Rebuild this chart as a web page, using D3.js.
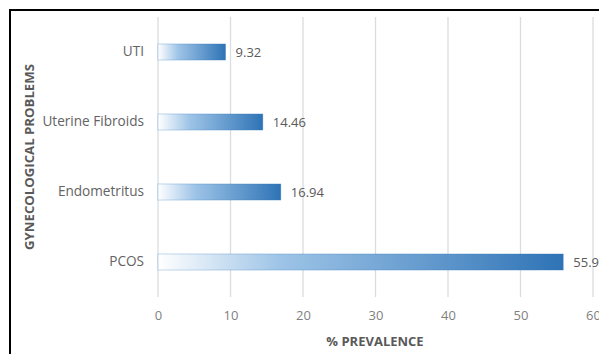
<!DOCTYPE html>
<html><head><meta charset="utf-8">
<script src="https://cdn.jsdelivr.net/npm/d3@7"></script>
<style>body{margin:0;background:#fff}svg{display:block}text{font-family:"Open Sans",sans-serif}</style>
</head><body><svg id="c" width="599" height="354"></svg>
<script>
const categories = ["UTI", "Uterine Fibroids", "Endometritus", "PCOS"];
const values = [9.32, 14.46, 16.94, 55.9];
const valueLabels = ["9.32", "14.46", "16.94", "55.9"];
const xTicks = [0, 10, 20, 30, 40, 50, 60];
const xTitle = "% PREVALENCE";
const yTitle = "GYNECOLOGICAL PROBLEMS";

const svg = d3.select("#c");
// frame
svg.append("rect").attr("x", 10).attr("y", 10).attr("width", 620).attr("height", 400)
  .attr("fill", "none").attr("stroke", "#000").attr("stroke-width", 2);

const x = d3.scaleLinear().domain([0, 60]).range([158, 593]);
const y = d3.scaleBand().domain(categories).range([17, 297]).paddingInner(0.77).paddingOuter(0.385);

const defs = svg.append("defs");
const g = defs.append("linearGradient").attr("id", "gr").attr("x1", 0).attr("x2", 1).attr("y1", 0).attr("y2", 0);
g.append("stop").attr("offset", "0%").attr("stop-color", "#ffffff");
g.append("stop").attr("offset", "30%").attr("stop-color", "#9ec4e7");
g.append("stop").attr("offset", "100%").attr("stop-color", "#2e73b6");

// gridlines
svg.append("g").selectAll("line").data(xTicks).join("line")
  .attr("x1", d => x(d)).attr("x2", d => x(d)).attr("y1", 17).attr("y2", 297)
  .attr("stroke", "#d9dde2").attr("stroke-width", 1.3);

// x axis labels
const xa = svg.append("g").attr("transform", "translate(0,297)")
  .call(d3.axisBottom(x).tickValues(xTicks).tickSize(0).tickPadding(14));
xa.select(".domain").remove();
xa.selectAll("text").attr("font-size", 13).attr("fill", "#7f7f7f").attr("font-family", "Open Sans");

// y axis labels
const ya = svg.append("g").attr("transform", "translate(158,0)")
  .call(d3.axisLeft(y).tickSize(0).tickPadding(14));
ya.select(".domain").remove();
ya.selectAll("text").attr("font-size", 13.6).attr("fill", "#636363").attr("font-family", "Open Sans");

// bars
svg.append("g").selectAll("rect").data(categories).join("rect")
  .attr("x", x(0)).attr("y", d => y(d)).attr("height", y.bandwidth())
  .attr("width", (d, i) => x(values[i]) - x(0))
  .attr("fill", "url(#gr)").attr("stroke", "#2e73b6").attr("stroke-opacity", 0.35).attr("stroke-width", 0.8);

// value labels
svg.append("g").selectAll("text").data(categories).join("text")
  .attr("x", (d, i) => x(values[i]) + 10).attr("y", d => y(d) + y.bandwidth() / 2)
  .attr("dy", "0.35em").attr("font-size", 13).attr("fill", "#595959")
  .text((d, i) => valueLabels[i]);

// titles
svg.append("text").attr("x", 375).attr("y", 346).attr("text-anchor", "middle")
  .attr("font-size", 13).attr("font-weight", "bold").attr("fill", "#595959").text(xTitle);
svg.append("text").attr("transform", "translate(34,157) rotate(-90)").attr("text-anchor", "middle")
  .attr("font-size", 13.2).attr("font-weight", "bold").attr("fill", "#595959").text(yTitle);
</script></body></html>
